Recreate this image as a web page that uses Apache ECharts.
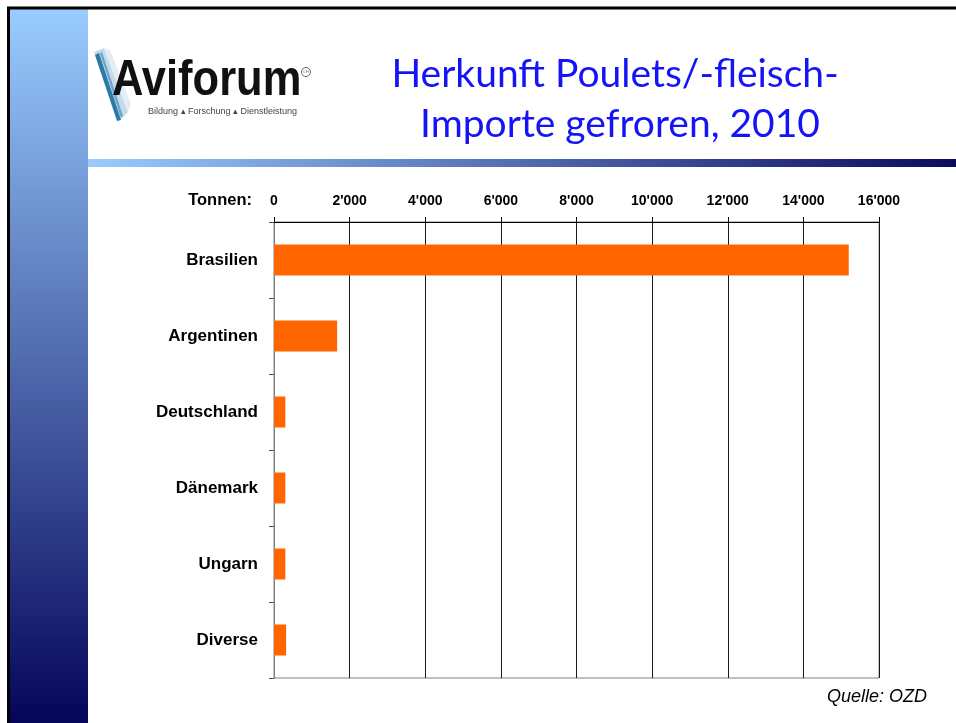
<!DOCTYPE html>
<html>
<head>
<meta charset="utf-8">
<script src="https://cdn.jsdelivr.net/npm/echarts@6/dist/echarts.min.js"></script>
<style>
  html, body { margin: 0; padding: 0; background: #fff; }
  #chart { width: 956px; height: 723px; }
</style>
</head>
<body>
<div id="chart"></div>
<script>
const countries = ['Brasilien', 'Argentinen', 'Deutschland', 'Dänemark', 'Ungarn', 'Diverse'];
const tonnen = [15200, 1670, 300, 300, 300, 320];
const titleLines = ['Herkunft Poulets/-fleisch-', 'Importe gefroren, 2010'];
const sourceNote = 'Quelle: OZD';

// 12000 -> 12'000
const fmt = (v) => String(v).replace(/\B(?=(\d{3})+(?!\d))/g, "'");

const chart = echarts.init(document.getElementById('chart'));

chart.setOption({
  animation: false,
  textStyle: { fontFamily: 'Liberation Sans, Arial, sans-serif' },
  grid: {
    left: 274, right: 77, top: 222, bottom: 45,
    show: true, borderColor: '#808080', borderWidth: 1
  },
  xAxis: {
    type: 'value',
    position: 'top',
    min: 0, max: 16000, interval: 2000,
    axisLine: { show: true, lineStyle: { color: '#000', width: 1 } },
    axisTick: { show: true, length: 5, lineStyle: { color: '#000' } },
    splitLine: { show: true, lineStyle: { color: '#1a1a1a', width: 1 } },
    axisLabel: {
      color: '#000', fontSize: 14, fontWeight: 'bold', margin: 14,
      formatter: fmt
    }
  },
  yAxis: {
    type: 'category',
    inverse: true,
    data: countries,
    axisLine: { show: true, lineStyle: { color: '#808080' } },
    axisTick: { show: true, length: 5, alignWithLabel: false, lineStyle: { color: '#555' } },
    axisLabel: { color: '#000', fontSize: 17, fontWeight: 'bold', margin: 16 }
  },
  series: [{
    type: 'bar',
    data: tonnen,
    barWidth: 31,
    itemStyle: { color: '#FF6600' }
  }],
  graphic: [
    // left gradient band
    {
      type: 'rect', z: -10,
      shape: { x: 9, y: 9, width: 79, height: 714 },
      style: {
        fill: new echarts.graphic.LinearGradient(0, 0, 0, 1, [
          { offset: 0, color: '#99CCFF' },
          { offset: 1, color: '#05055A' }
        ])
      }
    },
    // horizontal band below title
    {
      type: 'rect', z: -10,
      shape: { x: 88, y: 159, width: 868, height: 8 },
      style: {
        fill: new echarts.graphic.LinearGradient(0, 0, 1, 0, [
          { offset: 0, color: '#99CCFF' },
          { offset: 1, color: '#0B0B5E' }
        ])
      }
    },
    // slide border
    {
      type: 'rect', z: 10,
      shape: { x: 8.5, y: 8, width: 960, height: 730 },
      style: { fill: null, stroke: '#000', lineWidth: 3 }
    },
    // logo swoosh
    { type: 'polygon', shape: { points: [[94, 52], [104, 48], [128, 112], [119, 121]] }, style: { fill: '#c4dcea' } },
    { type: 'polygon', shape: { points: [[104, 48], [110, 50], [131, 104], [128, 112]] }, style: { fill: '#e2edf4' } },
    { type: 'polygon', shape: { points: [[95, 55], [99, 53], [121, 120], [117, 121]] }, style: { fill: '#2c7aa8' } },
    { type: 'polygon', shape: { points: [[100, 53], [102, 52], [123, 116], [121, 118]] }, style: { fill: '#6aa6c8' } },
    {
      type: 'text', x: 112, y: 81, scaleX: 0.87,
      style: { text: 'Aviforum', fontFamily: 'Liberation Sans, Arial', fontWeight: 'bold', fontSize: 50, fill: '#111', verticalAlign: 'middle' }
    },
    { type: 'circle', shape: { cx: 306, cy: 72, r: 4.5 }, style: { fill: '#fff', stroke: '#666', lineWidth: 1 } },
    { type: 'text', x: 306, y: 72, style: { text: 'CH', fontSize: 4, fill: '#666', align: 'center', verticalAlign: 'middle' } },
    {
      type: 'text', x: 148, y: 112,
      style: { text: 'Bildung ▴ Forschung ▴ Dienstleistung', fontFamily: 'Liberation Sans, Arial', fontSize: 9, fill: '#444', verticalAlign: 'middle' }
    },
    // title
    {
      type: 'text', x: 615, y: 74,
      style: { text: titleLines[0], fontFamily: 'Lato, Liberation Sans, sans-serif', fontSize: 39, fill: '#1414F5', align: 'center', verticalAlign: 'middle' }
    },
    {
      type: 'text', x: 620, y: 124,
      style: { text: titleLines[1], fontFamily: 'Lato, Liberation Sans, sans-serif', fontSize: 39, fill: '#1414F5', align: 'center', verticalAlign: 'middle' }
    },
    // axis caption
    {
      type: 'text', x: 252, y: 200,
      style: { text: 'Tonnen:', fontFamily: 'Liberation Sans, Arial', fontWeight: 'bold', fontSize: 16.5, fill: '#000', align: 'right', verticalAlign: 'middle' }
    },
    // source
    {
      type: 'text', x: 927, y: 697,
      style: { text: sourceNote, fontFamily: 'Liberation Sans, Arial', fontStyle: 'italic', fontSize: 18, fill: '#000', align: 'right', verticalAlign: 'middle' }
    }
  ]
});
</script>
</body>
</html>
